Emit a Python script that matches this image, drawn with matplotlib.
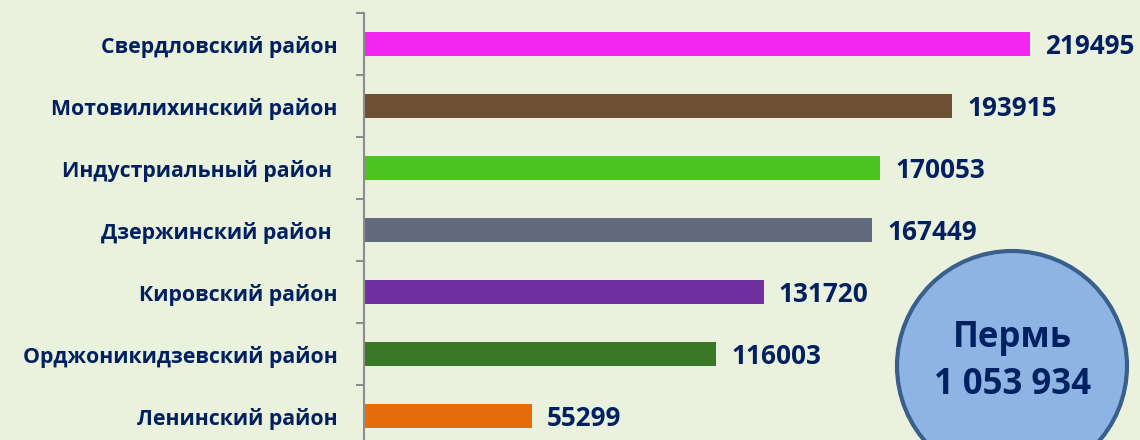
import numpy as np
import matplotlib.pyplot as plt
from matplotlib.patches import Circle

districts = ['Свердловский район', 'Мотовилихинский район', 'Индустриальный район ',
             'Дзержинский район ', 'Кировский район', 'Орджоникидзевский район',
             'Ленинский район']
population = [219495, 193915, 170053, 167449, 131720, 116003, 55299]
bar_colors = ['#F226F0', '#6E5134', '#4CC41F', '#646A7D', '#7030A0', '#3A7726', '#E46C0A']
city_name = 'Пермь'
city_total = '1 053 934'

bg = '#EAF1DD'
navy = '#002060'

fig = plt.figure(figsize=(11.4, 4.4), dpi=100, facecolor=bg)
W, H = 1140, 440
# axes placed in pixels: left 364, top 13, bottom 447 (runs off the figure)
ax = fig.add_axes([364 / W, 1 - 447 / H, (W - 364) / W, (447 - 13) / H])
ax.set_facecolor(bg)

y = np.arange(len(districts))
ax.barh(y, population, height=0.39, color=bar_colors)
ax.set_ylim(len(districts) - 0.5, -0.5)
ax.set_xlim(0, 219495 * (W - 364) / 666)

for s in ['top', 'right', 'bottom']:
    ax.spines[s].set_visible(False)
ax.spines['left'].set_color('#8C8C8C')
ax.spines['left'].set_linewidth(1.5)
ax.set_xticks([])

ax.set_yticks(y)
ax.set_yticklabels(districts, fontsize=15.3, fontweight='bold', color=navy, family='Open Sans')
ax.tick_params(axis='y', which='major', length=0, pad=19)
ax.set_yticks(np.arange(-0.5, len(districts)), minor=True)
ax.tick_params(axis='y', which='minor', length=6, width=1.5, color='#8C8C8C')

for yi, v in zip(y, population):
    ax.annotate(str(v), (v, yi), xytext=(11, -2), textcoords='offset points',
                ha='left', va='center', fontsize=18.8, fontweight='bold', color=navy,
                family='Open Sans')

circ = Circle((10.12, 0.74), 1.15, transform=fig.dpi_scale_trans,
              facecolor='#8EB4E3', edgecolor='#3A5F8C', linewidth=3)
fig.add_artist(circ)
fig.text(1012 / W, 1 - 338 / H, city_name, ha='center', va='center', fontsize=25,
         fontweight='bold', color=navy, family='Open Sans')
fig.text(1012 / W, 1 - 385 / H, city_total, ha='center', va='center', fontsize=25,
         fontweight='bold', color=navy, family='Open Sans')

fig.savefig('out.png', dpi=100, facecolor=bg)
